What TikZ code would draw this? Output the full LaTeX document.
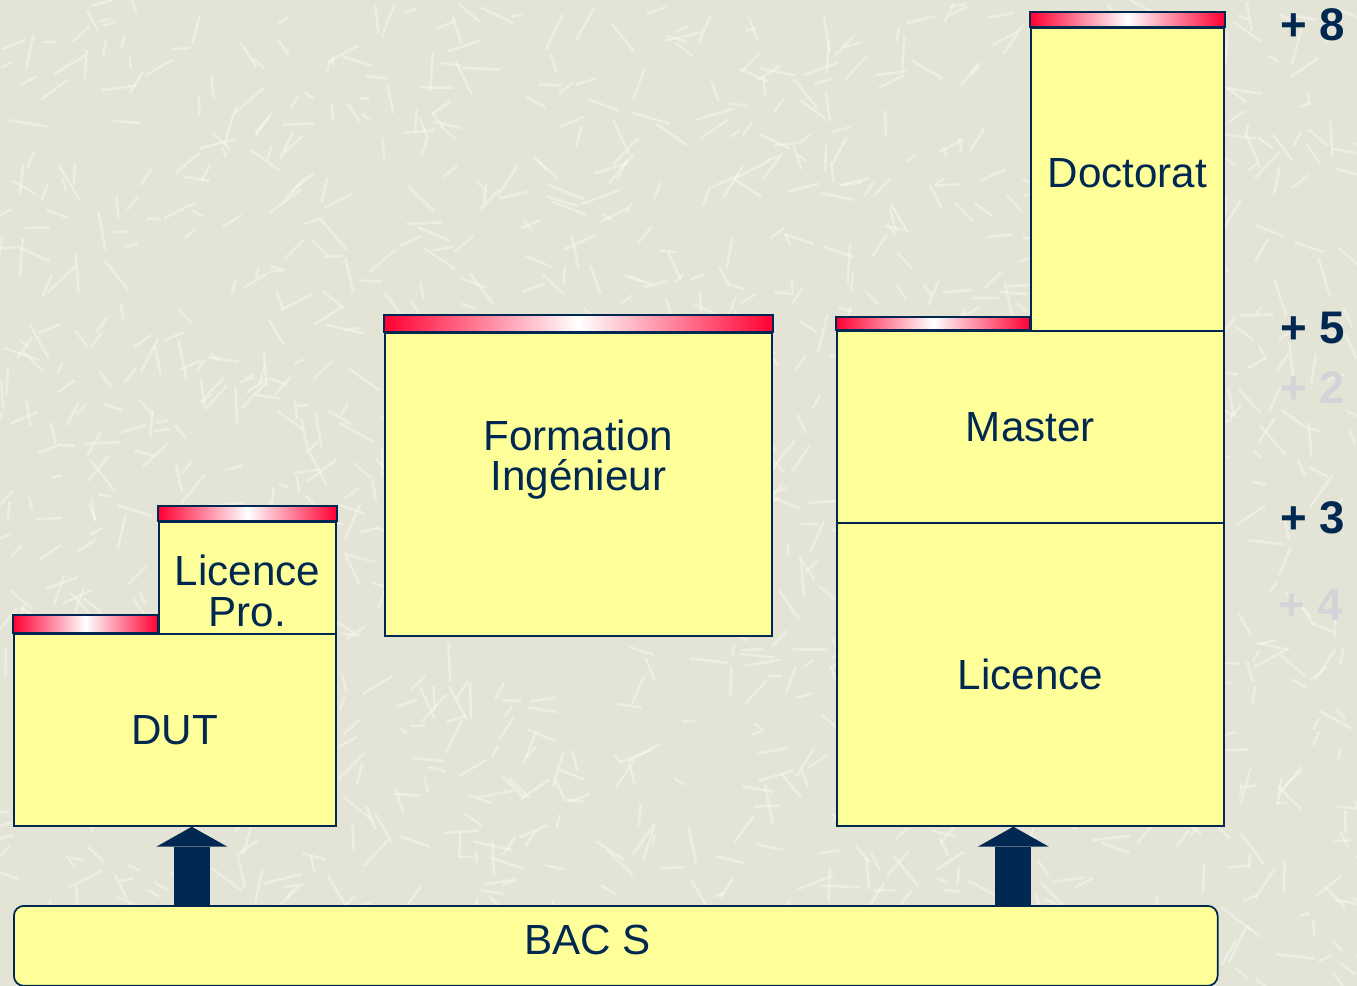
\documentclass[tikz,border=0pt]{standalone}
\usepackage{fontspec}
\setmainfont{Liberation Sans}
\usetikzlibrary{calc,arrows.meta}
\definecolor{inkblue}{RGB}{0,40,80}
\definecolor{paper}{RGB}{228,228,214}
\definecolor{boxyellow}{RGB}{255,255,153}
\definecolor{barred}{RGB}{255,0,51}
\definecolor{faintgray}{RGB}{212,212,216}

\begin{document}
\begin{tikzpicture}[x=0.02cm,y=-0.02cm,
  box/.style={draw=inkblue,line width=1pt,fill=boxyellow,text=inkblue,inner sep=0pt,
    font=\fontsize{24}{23}\selectfont,align=center,anchor=north west},
  boxtext/.style={text=inkblue,font=\fontsize{24}{23}\selectfont,align=center},
  bar/.style={draw=inkblue,line width=1pt,left color=barred,right color=barred,middle color=white},
  lift/.style={draw=inkblue,line width=0.72cm,-{Triangle[width=1.42cm,length=0.4cm,line width=0pt]}},
  year/.style={text=inkblue,font=\bfseries\fontsize{26}{26}\selectfont}]
  \useasboundingbox (0,0) rectangle (1357,986);
  % textured paper
  \fill[paper] (0,0) rectangle (1357,986);
  \pgfmathsetseed{42}
  \foreach \i in {1,...,1400}{
    \pgfmathsetmacro{\px}{rnd*1357}
    \pgfmathsetmacro{\py}{rnd*986}
    \pgfmathsetmacro{\pa}{rnd*180}
    \pgfmathsetmacro{\pl}{10+rnd*30}
    \draw[white,opacity=.35,line width=1.4pt] (\px,\py) -- ++(\pa:\pl);
  }
  % left column
  \node[box,minimum width=6.44cm,minimum height=3.84cm] (dut) at (13,633) {DUT};
  \node[box,minimum width=3.54cm,minimum height=2.24cm] (lpro) at (158,521) {};
  \node[boxtext] (lprotext) at ($(lpro.center)+(0,13)$) {Licence\\Pro.};
  \shadedraw[bar] (dut.north west) rectangle ($(lpro.south west)+(0,-20)$);
  \shadedraw[bar] (lpro.north west) rectangle ($(lpro.north east)+(0,-15)$);
  % middle column
  \node[box,minimum width=7.74cm,minimum height=6.06cm] (ing) at (384,332) {};
  \node[boxtext] (ingtext) at ($(ing.center)+(0,-25)$) {Formation\\Ingénieur};
  \shadedraw[bar] (ing.north west) rectangle ($(ing.north east)+(0,-17)$);
  % right column
  \node[box,minimum width=7.74cm,minimum height=6.06cm] (lic) at (836,522) {Licence};
  \node[box,minimum width=7.74cm,minimum height=3.84cm] (master) at (836,330) {Master};
  \node[box,minimum width=3.86cm,minimum height=6.06cm] (doc) at (1030,27) {};
  \node[boxtext] (doctext) at ($(doc.center)+(0,-6)$) {Doctorat};
  \shadedraw[bar] (master.north west) rectangle ($(doc.south west)+(0,-15)$);
  \shadedraw[bar] (doc.north west) rectangle ($(doc.north east)+(0,-15)$);
  % base
  \node[box,rounded corners=0.2cm,minimum width=24.08cm,minimum height=1.6cm] (bac) at (13,905) {};
  \node[boxtext] (bactext) at ($(bac.center)+(-28,-6)$) {BAC S};
  \coordinate (dutin) at ($(dut.south)+(17,0)$);
  \coordinate (licin) at ($(lic.south)+(-17,0)$);
  \draw[lift] (dutin |- bac.north) -- (dutin);
  \draw[lift] (licin |- bac.north) -- (licin);
  % years after the bac
  \node[year] (y8) at (1313,25) {+ 8};
  \node[year] (y5) at (1313,328) {+ 5};
  \node[year,text=faintgray] (y2) at (1313,388) {+ 2};
  \node[year] (y3) at (1313,518) {+ 3};
  \node[year,text=faintgray] (y4) at (1311,605) {+ 4};
\end{tikzpicture}
\end{document}
